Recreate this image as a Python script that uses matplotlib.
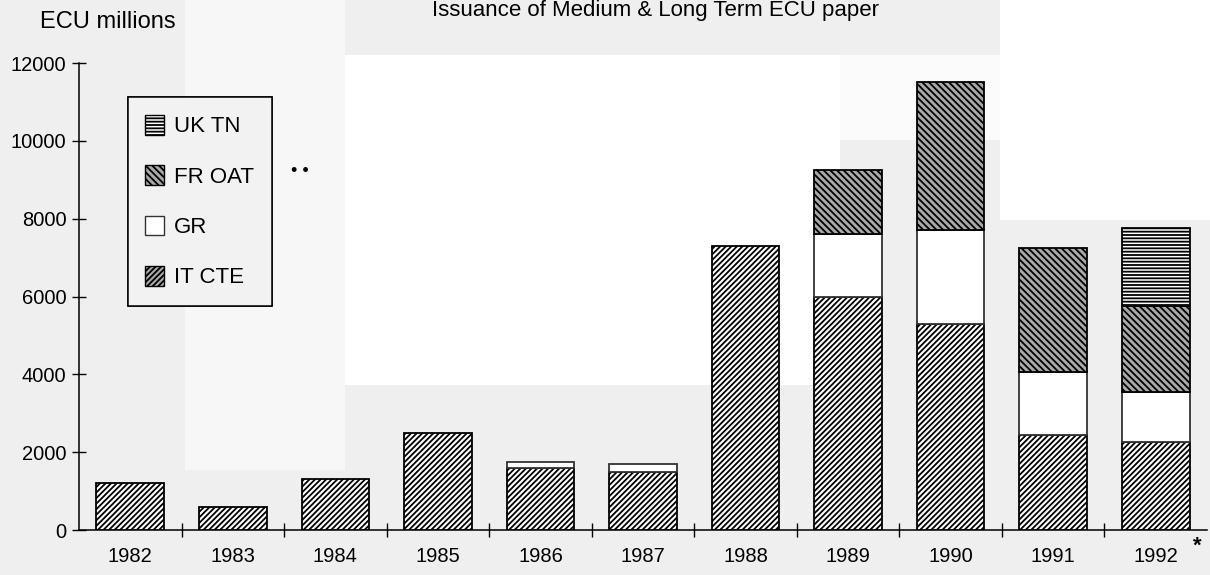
import numpy as np
import matplotlib
matplotlib.use('Agg')
import matplotlib.pyplot as plt
from matplotlib.patches import Rectangle, Patch

plt.rcParams['font.family'] = ['Liberation Sans', 'DejaVu Sans']
plt.rcParams['hatch.linewidth'] = 1.3

years = ['1982', '1983', '1984', '1985', '1986', '1987', '1988', '1989', '1990', '1991', '1992']
it_cte = [1200, 600, 1300, 2500, 1600, 1500, 7300, 6000, 5300, 2450, 2250]
gr = [0, 0, 0, 0, 150, 200, 0, 1600, 2400, 1600, 1300]
fr_oat = [0, 0, 0, 0, 0, 0, 0, 1650, 3800, 3200, 2200]
uk_tn = [0, 0, 0, 0, 0, 0, 0, 0, 0, 0, 2000]

fig = plt.figure(figsize=(12.1, 5.75), dpi=100)
fig.patch.set_facecolor('#efefef')

# scan background patches (pixel boxes: x0, y0, x1, y1 from top-left)
bg = [(185, 0, 345, 470, '#f7f7f7'), (345, 55, 840, 385, 'white'),
      (840, 55, 1000, 140, '#fbfbfb'), (1000, 0, 1210, 220, 'white')]
for x0, y0, x1, y1, c in bg:
    fig.patches.append(Rectangle((x0 / 1210, 1 - y1 / 575), (x1 - x0) / 1210, (y1 - y0) / 575,
                                 transform=fig.transFigure, facecolor=c, edgecolor='none', zorder=-5))

ax = fig.add_axes([79 / 1210, 45 / 575, 1128 / 1210, 467 / 575])
ax.set_facecolor('none')

x = np.arange(len(years))
w = 0.66
series = [
    ('IT CTE', np.array(it_cte), 'white', '//////', 'black'),
    ('GR', np.array(gr), 'white', '', '#333333'),
    ('FR OAT', np.array(fr_oat), '#a8a8a8', '\\\\\\\\\\', 'black'),
    ('UK TN', np.array(uk_tn), 'white', '-----', 'black'),
]
bottom = np.zeros(len(years))
for name, vals, fc, hatch, ec in series:
    m = vals > 0
    ax.bar(x[m], vals[m], w, bottom=bottom[m], facecolor=fc, hatch=hatch,
           edgecolor=ec, linewidth=1.3, zorder=3)
    bottom = bottom + vals

ax.set_xlim(-0.5, 10.5)
ax.set_ylim(0, 12000)
ax.set_yticks(np.arange(0, 12001, 2000))
ax.set_xticks(x)
ax.set_xticklabels(years, fontsize=14.5)
ax.tick_params(axis='x', length=0, pad=12)
ax.set_xticks(x[:-1] + 0.5, minor=True)
ax.tick_params(axis='x', which='minor', direction='inout', length=10, width=1)
ax.tick_params(axis='y', direction='inout', length=10, width=1, labelsize=14.5, pad=4)
for s in ['top', 'right']:
    ax.spines[s].set_visible(False)
ax.spines['left'].set_linewidth(1.1)
ax.spines['bottom'].set_linewidth(1.1)

handles = [Patch(facecolor='white', edgecolor='black', hatch='-----', label='UK TN'),
           Patch(facecolor='#a8a8a8', edgecolor='black', hatch='\\\\\\\\\\', label='FR OAT'),
           Patch(facecolor='white', edgecolor='#333333', label='GR'),
           Patch(facecolor='#a8a8a8', edgecolor='black', hatch='//////', label='IT CTE')]
leg = ax.legend(handles=handles, loc='upper left', bbox_to_anchor=(0.043, 0.927),
                fontsize=16, handlelength=0.85, handleheight=1.0, handletextpad=0.45,
                labelspacing=1.25, borderpad=0.8, borderaxespad=0, fancybox=False,
                edgecolor='black', facecolor='#f2f2f2', framealpha=1)
leg.get_frame().set_linewidth(1.1)
leg.get_frame().set_boxstyle('square', pad=0)
ax.add_artist(leg)

ax.text(0.196, 0.767, '• •', transform=ax.transAxes, fontsize=13, ha='center', va='center')
fig.text(1197 / 1210, 1 - 546 / 575, '*', fontsize=16, fontweight='bold', ha='center', va='center')

fig.text(40 / 1210, 1 - 22 / 575, 'ECU millions', fontsize=17, ha='left', va='center')
fig.text(655 / 1210, 1.0, 'Issuance of Medium & Long Term ECU paper', fontsize=16,
         ha='center', va='top')

fig.savefig('out.png', dpi=100, facecolor=fig.get_facecolor())
